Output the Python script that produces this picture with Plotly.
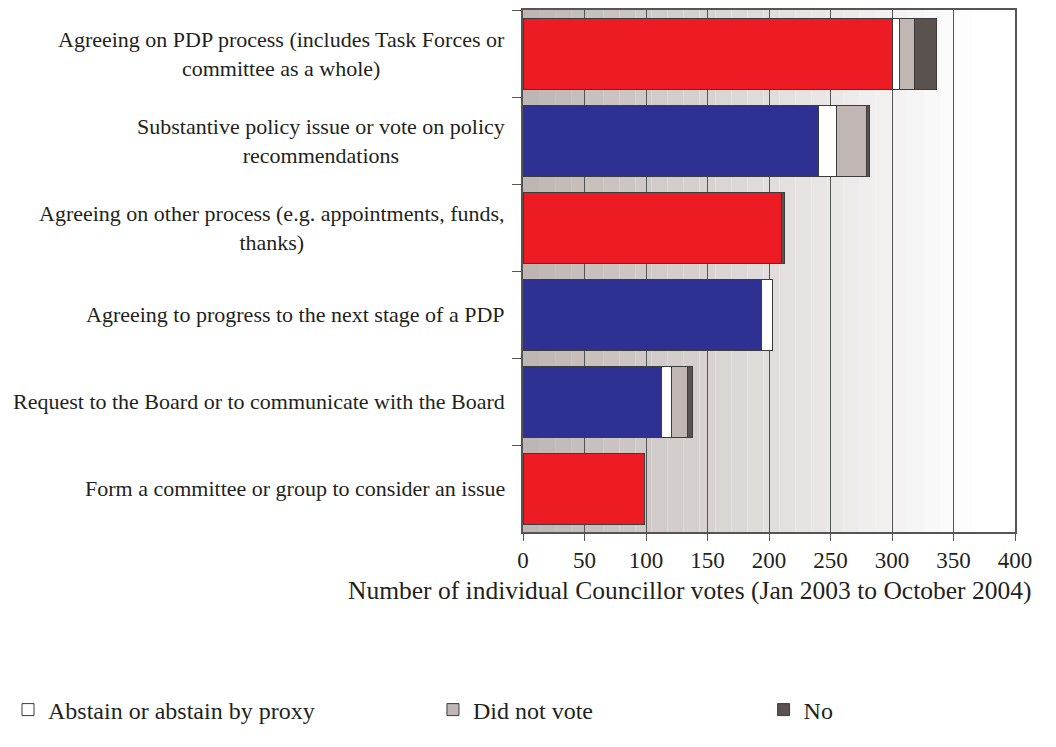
import plotly.graph_objects as go

categories = [
    "Agreeing on PDP process (includes Task Forces or<br>committee as a whole)",
    "Substantive policy issue or vote on policy<br>recommendations",
    "Agreeing on other process (e.g. appointments, funds,<br>thanks)",
    "Agreeing to progress to the next stage of a PDP",
    "Request to the Board or to communicate with the Board",
    "Form a committee or group to consider an issue",
]
main_votes = [300, 240, 210, 194, 113, 99]
abstain = [6, 15, 0, 9, 8, 0]
did_not_vote = [12, 24, 0, 0, 13, 0]
voted_no = [18, 3, 3, 0, 4, 0]
x_ticks = [0, 50, 100, 150, 200, 250, 300, 350, 400]

main_colors = ["#ED1C24", "#2E3192", "#ED1C24", "#2E3192", "#2E3192", "#ED1C24"]

FONT = "Liberation Serif, Times New Roman, serif"
TEXT = "#231F20"
EDGE = "#3C3C3C"

fig = go.Figure()
fig.add_trace(
    go.Bar(
        y=categories, x=main_votes, orientation="h",
        marker=dict(color=main_colors, line=dict(color=EDGE, width=1)),
        showlegend=False,
    )
)
fig.add_trace(
    go.Bar(
        y=categories, x=abstain, orientation="h", name="Abstain or abstain by proxy",
        marker=dict(color="#FFFFFF", line=dict(color=EDGE, width=1)),
        legend="legend",
    )
)
fig.add_trace(
    go.Bar(
        y=categories, x=did_not_vote, orientation="h", name="Did not vote",
        marker=dict(color="#C0B7B4", line=dict(color=EDGE, width=1)),
        legend="legend2",
    )
)
fig.add_trace(
    go.Bar(
        y=categories, x=voted_no, orientation="h", name="No",
        marker=dict(color="#5A524F", line=dict(color=EDGE, width=1)),
        legend="legend3",
    )
)

# stepped grey-to-white background gradient (Excel style)
shapes = []
n_steps = 28
grad_end = 365
for i in range(n_steps):
    t = i / (n_steps - 1)
    c0 = (190, 182, 179)
    c1 = (253, 253, 253)
    col = tuple(round(a + (b - a) * t) for a, b in zip(c0, c1))
    shapes.append(dict(
        type="rect", xref="x", yref="paper", layer="below",
        x0=grad_end * i / n_steps, x1=grad_end * (i + 1) / n_steps, y0=0, y1=1,
        fillcolor="rgb(%d,%d,%d)" % col, line=dict(width=0),
    ))

annotations = []
for cat in categories:
    annotations.append(dict(
        x=0, xref="paper", xshift=-16, xanchor="right",
        y=cat, yref="y", yanchor="middle",
        text=cat, align="center", showarrow=False,
        font=dict(family=FONT, size=22, color=TEXT),
    ))
annotations.append(dict(
    x=0.339, xref="paper", y=-0.113, yref="paper",
    xanchor="center", yanchor="middle",
    text="Number of individual Councillor votes (Jan 2003 to October 2004)",
    showarrow=False, font=dict(family=FONT, size=25.5, color=TEXT),
))

legend_style = dict(
    orientation="h", yanchor="middle", y=-0.341, xanchor="left",
    bgcolor="rgba(0,0,0,0)", font=dict(family=FONT, size=24, color=TEXT),
)

fig.update_layout(
    barmode="stack",
    bargap=0.184,
    width=1056,
    height=747,
    margin=dict(l=514, r=49, t=0, b=223),
    paper_bgcolor="white",
    plot_bgcolor="white",
    font=dict(family=FONT, size=22, color=TEXT),
    shapes=shapes,
    annotations=annotations,
    legend=dict(legend_style, x=-1.048),
    legend2=dict(legend_style, x=-0.183),
    legend3=dict(legend_style, x=0.489),
    xaxis=dict(
        range=[0, 400], tickvals=x_ticks, ticks="outside", ticklen=7,
        tickcolor="#555555", showgrid=True, gridcolor="#555555", gridwidth=1,
        showline=True, linecolor="#555555", linewidth=1.5, mirror=True,
        zeroline=False, tickfont=dict(family=FONT, size=23, color=TEXT),
    ),
    yaxis=dict(
        autorange="reversed", showticklabels=False, ticks="outside",
        tickson="boundaries", ticklen=9, tickcolor="#555555",
        showline=True, linecolor="#555555", linewidth=1.5, mirror=True,
        showgrid=False,
    ),
)

fig.write_html("out.html")
